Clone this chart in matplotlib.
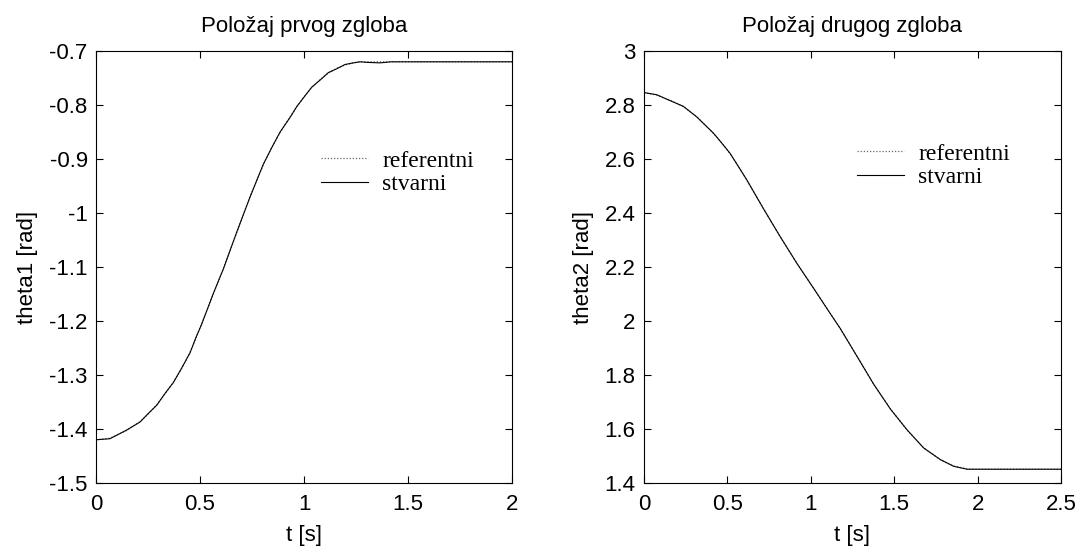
import numpy as np
import matplotlib
matplotlib.use("Agg")
import matplotlib.pyplot as plt

# Joint 1 trajectory (time in s, angle in rad)
t1 = [0.000, 0.067, 0.147, 0.212, 0.252, 0.292, 0.332, 0.372, 0.412, 0.452,
      0.480, 0.508, 0.564, 0.612, 0.676, 0.740, 0.804, 0.845, 0.885, 0.933,
      0.965, 0.997, 1.037, 1.077, 1.117, 1.157, 1.197, 1.237, 1.269, 1.300,
      1.365, 1.420, 1.500, 2.000]
theta1_ref = [-1.420, -1.417, -1.403, -1.386, -1.372, -1.355, -1.335, -1.313,
              -1.288, -1.258, -1.232, -1.205, -1.150, -1.103, -1.037, -0.970,
              -0.911, -0.878, -0.851, -0.822, -0.804, -0.786, -0.768, -0.753,
              -0.741, -0.732, -0.726, -0.722, -0.720, -0.720, -0.720, -0.720,
              -0.720, -0.720]
theta1_act = [-1.420, -1.418, -1.402, -1.387, -1.371, -1.356, -1.334, -1.314,
              -1.287, -1.259, -1.231, -1.206, -1.149, -1.104, -1.036, -0.971,
              -0.910, -0.879, -0.850, -0.823, -0.803, -0.787, -0.767, -0.754,
              -0.740, -0.733, -0.725, -0.722, -0.720, -0.721, -0.722, -0.720,
              -0.720, -0.720]

# Joint 2 trajectory
t2 = [0.000, 0.076, 0.176, 0.236, 0.316, 0.416, 0.466, 0.516, 0.566, 0.616,
      0.716, 0.816, 0.917, 1.016, 1.116, 1.176, 1.277, 1.377, 1.477, 1.577,
      1.676, 1.776, 1.856, 1.937, 2.000, 2.250, 2.500]
theta2_ref = [2.846, 2.837, 2.812, 2.794, 2.757, 2.695, 2.660, 2.620, 2.573,
              2.522, 2.417, 2.312, 2.214, 2.121, 2.029, 1.972, 1.870, 1.765,
              1.675, 1.596, 1.531, 1.486, 1.463, 1.452, 1.451, 1.451, 1.451]
theta2_act = [2.846, 2.838, 2.811, 2.795, 2.756, 2.696, 2.659, 2.621, 2.572,
              2.523, 2.416, 2.313, 2.213, 2.122, 2.028, 1.973, 1.869, 1.766,
              1.674, 1.597, 1.530, 1.487, 1.462, 1.451, 1.451, 1.451, 1.451]

titles = ["Položaj prvog zgloba", "Položaj drugog zgloba"]
ylabels = ["theta1 [rad]", "theta2 [rad]"]
xlabel = "t [s]"
legend_labels = ["referentni", "stvarni"]

W, H = 1083, 550
FS = 16

plt.rcParams["font.family"] = ["Liberation Sans", "DejaVu Sans"]
plt.rcParams["font.size"] = FS

fig = plt.figure(figsize=(W / 100, H / 100), dpi=100)
ax1 = fig.add_axes([96 / W, 67 / H, 416 / W, 432 / H])
ax2 = fig.add_axes([644 / W, 67 / H, 417 / W, 432 / H])

panels = [
    (ax1, t1, theta1_ref, theta1_act, (0, 2), (-1.5, -0.7),
     np.arange(0, 2.01, 0.5), np.arange(-1.5, -0.69, 0.1), (321 / W, 1 - 150 / H)),
    (ax2, t2, theta2_ref, theta2_act, (0, 2.5), (1.4, 3.0),
     np.arange(0, 2.51, 0.5), np.arange(1.4, 3.01, 0.2), (857 / W, 1 - 143 / H)),
]


def fmt(v):
    s = f"{v:.1f}"
    if s.endswith(".0"):
        s = s[:-2]
    if s == "-0":
        s = "0"
    return s


for i, (ax, t, ref, act, xl, yl, xt, yt, leg_pos) in enumerate(panels):
    ax.plot(t, ref, color="#666666", lw=0.9, ls=(0, (1, 1.5)), label=legend_labels[0])
    ax.plot(t, act, color="black", lw=0.8, label=legend_labels[1])
    ax.set_xlim(*xl)
    ax.set_ylim(*yl)
    ax.set_xticks(xt)
    ax.set_xticklabels([fmt(v) for v in xt])
    ax.set_yticks(yt)
    ax.set_yticklabels([fmt(v) for v in yt])
    ax.tick_params(direction="in", length=5, width=0.8, top=True, right=True,
                   labelsize=FS)
    ax.tick_params(axis="x", pad=8)
    ax.tick_params(axis="y", pad=6)
    for sp in ax.spines.values():
        sp.set_linewidth(0.8)
    ax.set_title(titles[i], fontsize=FS, pad=14)
    ax.set_xlabel(xlabel, fontsize=FS, labelpad=7)
    ax.set_ylabel(ylabels[i], fontsize=FS, labelpad=8)
    ax.legend(loc="upper left", bbox_to_anchor=leg_pos,
              bbox_transform=fig.transFigure, frameon=False,
              prop={"family": "Liberation Serif", "size": 17},
              handlelength=2.0, handletextpad=0.6, labelspacing=0.1,
              borderpad=0, borderaxespad=0)

fig.savefig("out.png", dpi=100)
